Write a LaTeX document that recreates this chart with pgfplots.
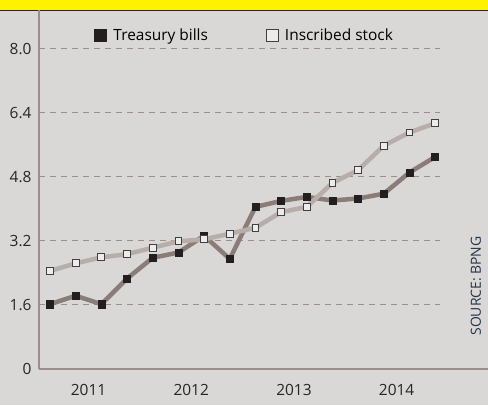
\documentclass[border=0pt]{standalone}
\usepackage{pgfplots}
\pgfplotsset{compat=1.18}
\usepackage{fontspec}
\setmainfont{Open Sans}
\definecolor{bg}{HTML}{D9D8D7}
\definecolor{band}{HTML}{FFF200}
\definecolor{axisc}{HTML}{9A8F8B}
\definecolor{gridc}{HTML}{9C8E8E}
\definecolor{tbline}{HTML}{8A7D78}
\definecolor{isline}{HTML}{B7AEAA}
\definecolor{tbmark}{HTML}{231F20}
\definecolor{ismark}{HTML}{ECECEC}
\definecolor{srcc}{HTML}{22344A}
\begin{document}
\begin{tikzpicture}[x=1bp,y=1bp]
\fill[bg] (0,0) rectangle (488,405);
\fill[band] (0,395) rectangle (488,405);
\draw[black!85,line width=1.2bp] (0,394.6) -- (488,394.6);
\begin{axis}[
    at={(39bp,36bp)}, anchor=south west,
    scale only axis, width=449bp, height=359bp,
    xmin=-0.43, xmax=17.06, ymin=0, ymax=8.97,
    axis x line*=bottom, axis y line*=left,
    axis line style={axisc, line width=1.2bp, -},
    xtick={1.5,5.5,9.5,13.5}, xticklabels={2011,2012,2013,2014},
    ytick={0,1.6,3.2,4.8,6.4,8.0}, yticklabels={0,1.6,3.2,4.8,6.4,8.0},
    major tick length=0pt,
    tick label style={font=\fontsize{15.5}{18}\selectfont, text=black!85},
    xticklabel style={yshift=-12bp},
    yticklabel style={xshift=-4bp},
    /pgf/number format/assume math mode=true,
    clip=false,
    legend style={at={(0.457,0.93)}, anchor=center, draw=none, fill=none,
        font=\fontsize{15.5}{18}\selectfont, legend columns=2,
        /tikz/every even column/.append style={column sep=56bp}},
]
\foreach \v in {1.6,3.2,4.8,6.4,8.0}{
  \edef\tmp{\noexpand\draw[gridc, dash pattern=on 6bp off 5bp, line width=1bp] (axis cs:-0.43,\v) -- (axis cs:15.2,\v);}
  \tmp
}
\addplot[tbline, line width=4.5bp, mark=square*, mark size=3.6bp,
    mark options={tbmark, fill=tbmark, line width=0.5bp},
    legend image code/.code={\node[rectangle, draw=none, fill=tbmark, minimum size=13bp, inner sep=0pt] at (6.5bp,0) {};
      \node[draw=none, fill=none, inner sep=0pt, minimum width=18bp, minimum height=1bp] at (9bp,0) {};}]
coordinates {
(0,1.62)(1,1.83)(2,1.62)(3,2.26)(4,2.78)(5,2.91)(6,3.33)(7,2.75)
(8,4.05)(9,4.20)(10,4.30)(11,4.21)(12,4.26)(13,4.38)(14,4.91)(15,5.30)
};
\addlegendentry{Treasury bills}
\addplot[isline, line width=4.5bp, mark=square*, mark size=3.4bp,
    mark options={draw=black!75, fill=ismark, line width=1bp},
    legend image code/.code={\node[rectangle, draw=black!75, fill=ismark, line width=1bp, minimum size=12bp, inner sep=0pt] at (6.5bp,0) {};
      \node[draw=none, fill=none, inner sep=0pt, minimum width=17bp, minimum height=1bp] at (8.5bp,0) {};}]
coordinates {
(0,2.45)(1,2.64)(2,2.79)(3,2.87)(4,3.03)(5,3.19)(6,3.24)(7,3.38)
(8,3.53)(9,3.92)(10,4.05)(11,4.65)(12,4.97)(13,5.58)(14,5.91)(15,6.14)
};
\addlegendentry{Inscribed stock}
\end{axis}
\node[rotate=90, text=srcc, font=\fontsize{14}{16}\selectfont] at (476,119) {SOURCE: BPNG};
\pgfresetboundingbox
\path[use as bounding box] (0,0) rectangle (488,405);
\end{tikzpicture}
\end{document}
